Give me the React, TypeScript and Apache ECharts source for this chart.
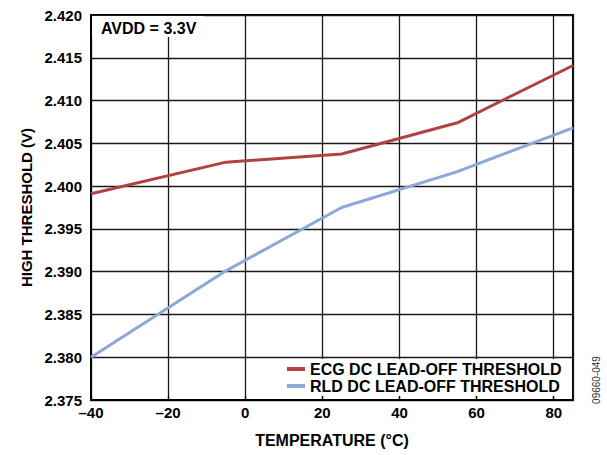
import React, { useEffect, useRef } from "react";
import * as echarts from "echarts";

const temperatures = [-40, -5, 25, 55, 85];
const ecgThreshold = [2.3991, 2.4028, 2.40375, 2.4074, 2.4141];
const rldThreshold = [2.38, 2.3901, 2.3975, 2.4017, 2.4068];
const seriesNames = ["ECG DC LEAD-OFF THRESHOLD", "RLD DC LEAD-OFF THRESHOLD"];
const xTitle = "TEMPERATURE (°C)";
const yTitle = "HIGH THRESHOLD (V)";
const noteText = "AVDD = 3.3V";
const figureId = "09660-049";

const FONT = "'Liberation Sans', Arial, Helvetica, sans-serif";

export default function App() {
  const ref = useRef<HTMLDivElement>(null);
  useEffect(() => {
    if (!ref.current) return;
    const chart = echarts.init(ref.current, undefined, { renderer: "svg" });
    const pair = (xs: number[], ys: number[]) => xs.map((x, i) => [x, ys[i]]);
    chart.setOption({
      animation: false,
      backgroundColor: "#fff",
      grid: {
        left: 91,
        right: 34,
        top: 15,
        bottom: 55,
        show: true,
        borderColor: "#000",
        borderWidth: 2,
        backgroundColor: "transparent",
      },
      xAxis: {
        type: "value",
        min: -40,
        max: 85,
        interval: 20,
        name: xTitle,
        nameLocation: "middle",
        nameGap: 32,
        nameTextStyle: { fontFamily: FONT, fontWeight: "bold", fontSize: 16, color: "#000" },
        axisLine: { show: true, onZero: false, lineStyle: { color: "#000", width: 2 } },
        axisTick: { show: true, inside: true, length: 4, lineStyle: { color: "#000", width: 1.3 } },
        axisLabel: {
          fontFamily: FONT,
          fontWeight: "bold",
          fontSize: 15,
          color: "#000",
          margin: 5,
          showMaxLabel: false,
          formatter: (v: number) => (v < 0 ? "\u2013" + Math.abs(v) : String(v)),
        },
        splitLine: { show: true, lineStyle: { color: "#1a1a1a", width: 1.3 } },
      },
      yAxis: {
        type: "value",
        min: 2.375,
        max: 2.42,
        interval: 0.005,
        name: yTitle,
        nameLocation: "middle",
        nameGap: 56,
        nameTextStyle: { fontFamily: FONT, fontWeight: "bold", fontSize: 15, color: "#000" },
        axisLine: { show: true, onZero: false, lineStyle: { color: "#000", width: 2 } },
        axisTick: { show: false },
        axisLabel: {
          fontFamily: FONT,
          fontWeight: "bold",
          fontSize: 15,
          color: "#000",
          margin: 9,
          formatter: (v: number) => v.toFixed(3),
        },
        splitLine: { show: true, lineStyle: { color: "#1a1a1a", width: 1.3 } },
      },
      legend: {
        orient: "vertical",
        left: 281,
        top: 359,
        padding: [2, 6, 2, 6],
        itemGap: 1,
        itemWidth: 18,
        itemHeight: 4,
        icon: "rect",
        backgroundColor: "#fff",
        textStyle: { fontFamily: FONT, fontWeight: "bold", fontSize: 16, color: "#000", lineHeight: 14 },
        data: seriesNames,
      },
      series: [
        {
          name: seriesNames[0],
          type: "line",
          data: pair(temperatures, ecgThreshold),
          symbol: "none",
          lineStyle: { color: "#B0423F", width: 3 },
          itemStyle: { color: "#B0423F" },
          z: 3,
        },
        {
          name: seriesNames[1],
          type: "line",
          data: pair(temperatures, rldThreshold),
          symbol: "none",
          lineStyle: { color: "#8CA8D6", width: 3 },
          itemStyle: { color: "#8CA8D6" },
          z: 3,
        },
      ],
      graphic: [
        {
          type: "rect",
          shape: { x: 92, y: 16, width: 112, height: 21 },
          style: { fill: "#fff" },
          z: 10,
        },
        {
          type: "text",
          x: 101,
          y: 28,
          style: {
            text: noteText,
            fontFamily: FONT,
            fontWeight: "bold",
            fontSize: 16,
            fill: "#000",
            verticalAlign: "middle",
          },
          z: 11,
        },
        {
          type: "text",
          x: 596,
          y: 380,
          rotation: Math.PI / 2,
          style: {
            text: figureId,
            fontFamily: FONT,
            fontSize: 10,
            fill: "#333",
            align: "center",
            verticalAlign: "middle",
          },
          z: 11,
        },
      ],
    });
    return () => chart.dispose();
  }, []);
  return (
    <div
      ref={ref}
      style={{ position: "fixed", left: 0, top: 0, width: 607, height: 455 }}
    />
  );
}
